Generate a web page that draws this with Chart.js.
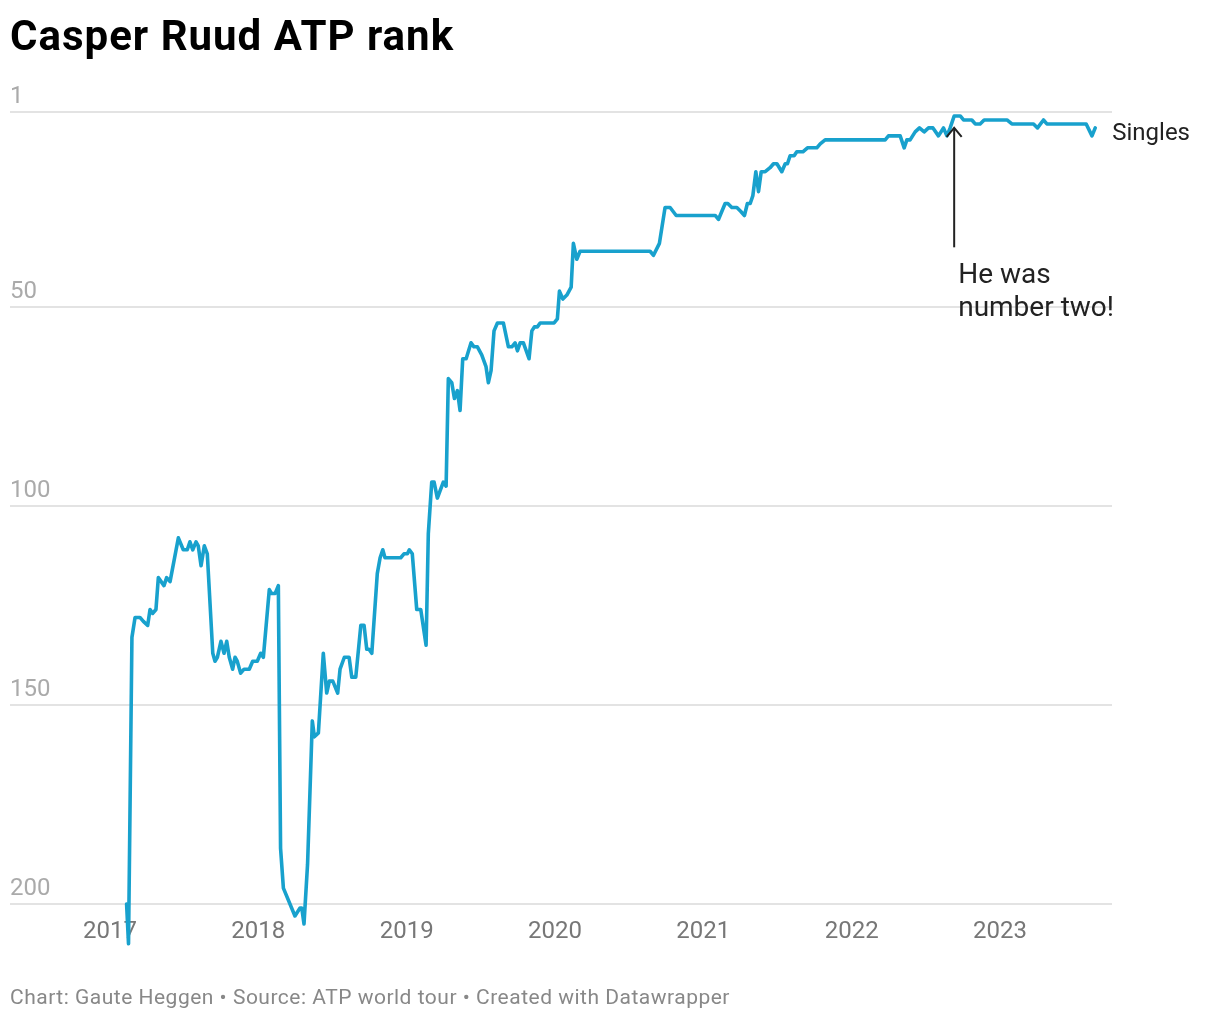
<!DOCTYPE html>
<html>
<head>
<meta charset="utf-8">
<script src="https://cdn.jsdelivr.net/npm/chart.js@4"></script>
<style>
html,body{margin:0;padding:0;background:#fff;}
body{width:1220px;height:1020px;position:relative;overflow:hidden;font-family:Roboto,"Noto Sans",sans-serif;}
#title{position:absolute;left:10px;top:15px;margin:0;font-size:42px;line-height:42px;letter-spacing:1px;font-weight:700;color:#000;white-space:nowrap;}
#foot{position:absolute;left:10px;top:987px;font-size:21px;line-height:21px;letter-spacing:0.5px;color:#888;white-space:nowrap;}
#chart{position:absolute;left:0;top:0;}
</style>
</head>
<body>
<canvas id="chart" width="1220" height="1020"></canvas>
<h1 id="title">Casper Ruud ATP rank</h1>
<div id="foot">Chart: Gaute Heggen • Source: ATP world tour • Created with Datawrapper</div>
<script>
// ---- data ----
const years = [
  2017.112,2017.125,2017.148,2017.169,2017.202,2017.225,2017.254,2017.270,2017.288,2017.310,
  2017.326,2017.364,2017.382,2017.405,2017.461,2017.494,2017.521,2017.539,2017.558,2017.580,
  2017.595,2017.614,2017.636,2017.656,2017.693,2017.708,2017.724,2017.748,2017.769,2017.787,
  2017.804,2017.827,2017.843,2017.858,2017.881,2017.904,2017.939,2017.962,2017.993,2018.016,
  2018.034,2018.074,2018.090,2018.113,2018.135,2018.150,2018.169,2018.247,2018.281,2018.293,
  2018.308,2018.332,2018.364,2018.378,2018.405,2018.438,2018.461,2018.479,2018.502,2018.535,
  2018.551,2018.580,2018.612,2018.630,2018.657,2018.691,2018.713,2018.731,2018.746,2018.765,
  2018.802,2018.821,2018.839,2018.854,2018.960,2018.982,2019.005,2019.018,2019.038,2019.068,
  2019.095,2019.131,2019.146,2019.169,2019.185,2019.207,2019.237,2019.247,2019.266,2019.281,
  2019.304,2019.322,2019.342,2019.360,2019.378,2019.401,2019.434,2019.454,2019.477,2019.506,
  2019.535,2019.551,2019.569,2019.589,2019.612,2019.652,2019.686,2019.709,2019.731,2019.747,
  2019.765,2019.787,2019.825,2019.844,2019.861,2019.881,2019.900,2019.994,2020.016,2020.030,
  2020.053,2020.080,2020.109,2020.124,2020.147,2020.169,2020.641,2020.664,2020.704,2020.742,
  2020.776,2020.817,2021.080,2021.102,2021.147,2021.165,2021.192,2021.226,2021.253,2021.277,
  2021.297,2021.316,2021.334,2021.354,2021.372,2021.390,2021.417,2021.450,2021.473,2021.496,
  2021.529,2021.552,2021.567,2021.585,2021.612,2021.630,2021.671,2021.702,2021.765,2021.788,
  2021.821,2022.226,2022.248,2022.327,2022.354,2022.372,2022.394,2022.428,2022.457,2022.489,
  2022.518,2022.548,2022.585,2022.619,2022.642,2022.664,2022.691,2022.732,2022.754,2022.810,
  2022.833,2022.866,2022.893,2023.047,2023.080,2023.226,2023.253,2023.293,2023.316,2023.581,
  2023.620,2023.642
];
const ranks = [
  200,210,133,128,128,129,130,126,127,126,
  118,120,118,119,108,111,111,109,111,109,
  110,115,110,112,137,139,138,134,137,134,
  138,141,138,139,142,141,141,139,139,137,
  138,121,122,122,120,186,196,203,201,201,
  205,190,154,158,157,137,147,144,144,147,
  141,138,138,143,143,130,130,136,136,137,
  117,113,111,113,113,112,112,111,112,126,
  126,135,107,94,94,98,95,94,95,68,
  69,73,71,76,63,63,59,60,60,62,
  65,69,66,56,54,54,60,60,59,61,
  59,59,63,56,55,55,54,54,53,46,
  48,47,45,34,38,36,36,37,34,25,
  25,27,27,28,24,24,25,25,26,27,
  24,24,22,16,21,16,16,15,14,14,
  16,14,14,12,12,11,11,10,10,9,
  8,8,7,7,10,8,8,6,5,6,
  5,5,7,5,7,5,2,2,3,3,
  4,4,3,3,4,4,5,3,4,4,
  7,5
];
const seriesName = "Singles";
const yTicks = [1, 50, 100, 150, 200];
const xTicks = [2017, 2018, 2019, 2020, 2021, 2022, 2023];
const annotationLines = ["He was", "number two!"];
const arrowYear = 2022.691;
const arrowFromRank = 35;
const arrowToRank = 5;

// ---- drawing ----
const FONT = 'Roboto, "Noto Sans", sans-serif';
const points = years.map((x, i) => ({ x: x, y: ranks[i] }));

const labelsPlugin = {
  id: 'labels',
  afterDatasetsDraw(chart) {
    const ctx = chart.ctx;
    const xs = chart.scales.x, ys = chart.scales.y;
    ctx.save();
    // series label at line end
    const lx = xs.getPixelForValue(years[years.length - 1]);
    const ly = ys.getPixelForValue(ranks[ranks.length - 1]);
    ctx.fillStyle = '#222';
    ctx.font = '24px ' + FONT;
    ctx.textAlign = 'left';
    ctx.textBaseline = 'alphabetic';
    ctx.fillText(seriesName, lx + 17, ly + 12);
    // annotation arrow
    const ax = xs.getPixelForValue(arrowYear);
    const ay0 = ys.getPixelForValue(arrowFromRank);
    const ay1 = ys.getPixelForValue(arrowToRank);
    ctx.strokeStyle = '#222';
    ctx.lineWidth = 2;
    ctx.beginPath();
    ctx.moveTo(ax, ay0);
    ctx.lineTo(ax, ay1);
    ctx.stroke();
    ctx.beginPath();
    ctx.moveTo(ax - 7.5, ay1 + 9);
    ctx.lineTo(ax, ay1);
    ctx.lineTo(ax + 7.5, ay1 + 9);
    ctx.stroke();
    // annotation text
    ctx.font = '28px ' + FONT;
    ctx.fillStyle = '#222';
    annotationLines.forEach((t, i) => {
      ctx.fillText(t, ax + 4, ay0 + 36 + i * 33);
    });
    ctx.restore();
  }
};

new Chart(document.getElementById('chart'), {
  type: 'line',
  data: {
    datasets: [{
      label: seriesName,
      data: points,
      borderColor: '#18a1cd',
      borderWidth: 3.6,
      pointRadius: 0,
      pointHoverRadius: 0,
      tension: 0,
      fill: false,
      clip: false,
      borderJoinStyle: 'round',
      borderCapStyle: 'round'
    }]
  },
  options: {
    responsive: false,
    animation: false,
    events: [],
    layout: { padding: { left: 10, right: 108, top: 112, bottom: 66 } },
    plugins: { legend: { display: false }, tooltip: { enabled: false }, title: { display: false } },
    scales: {
      x: {
        type: 'linear',
        min: 2016.326,
        max: 2023.755,
        afterBuildTicks: (s) => { s.ticks = xTicks.map(v => ({ value: v })); },
        afterFit: (s) => { s.height = 50; },
        grid: { display: false, drawTicks: false },
        border: { display: false },
        ticks: {
          autoSkip: false,
          maxRotation: 0,
          padding: 14,
          color: '#777',
          font: { family: FONT, size: 24 },
          callback: (v) => String(v)
        }
      },
      y: {
        type: 'linear',
        reverse: true,
        min: 1,
        max: 200,
        afterBuildTicks: (s) => { s.ticks = yTicks.map(v => ({ value: v })); },
        afterFit: (s) => { s.width = 0; },
        grid: { color: '#e3e3e3', lineWidth: 2, drawTicks: false },
        border: { display: false },
        ticks: {
          mirror: true,
          padding: 0,
          labelOffset: -15.5,
          color: '#aaa',
          font: { family: FONT, size: 24 },
          callback: (v) => String(v)
        }
      }
    }
  },
  plugins: [labelsPlugin]
});
</script>
</body>
</html>
